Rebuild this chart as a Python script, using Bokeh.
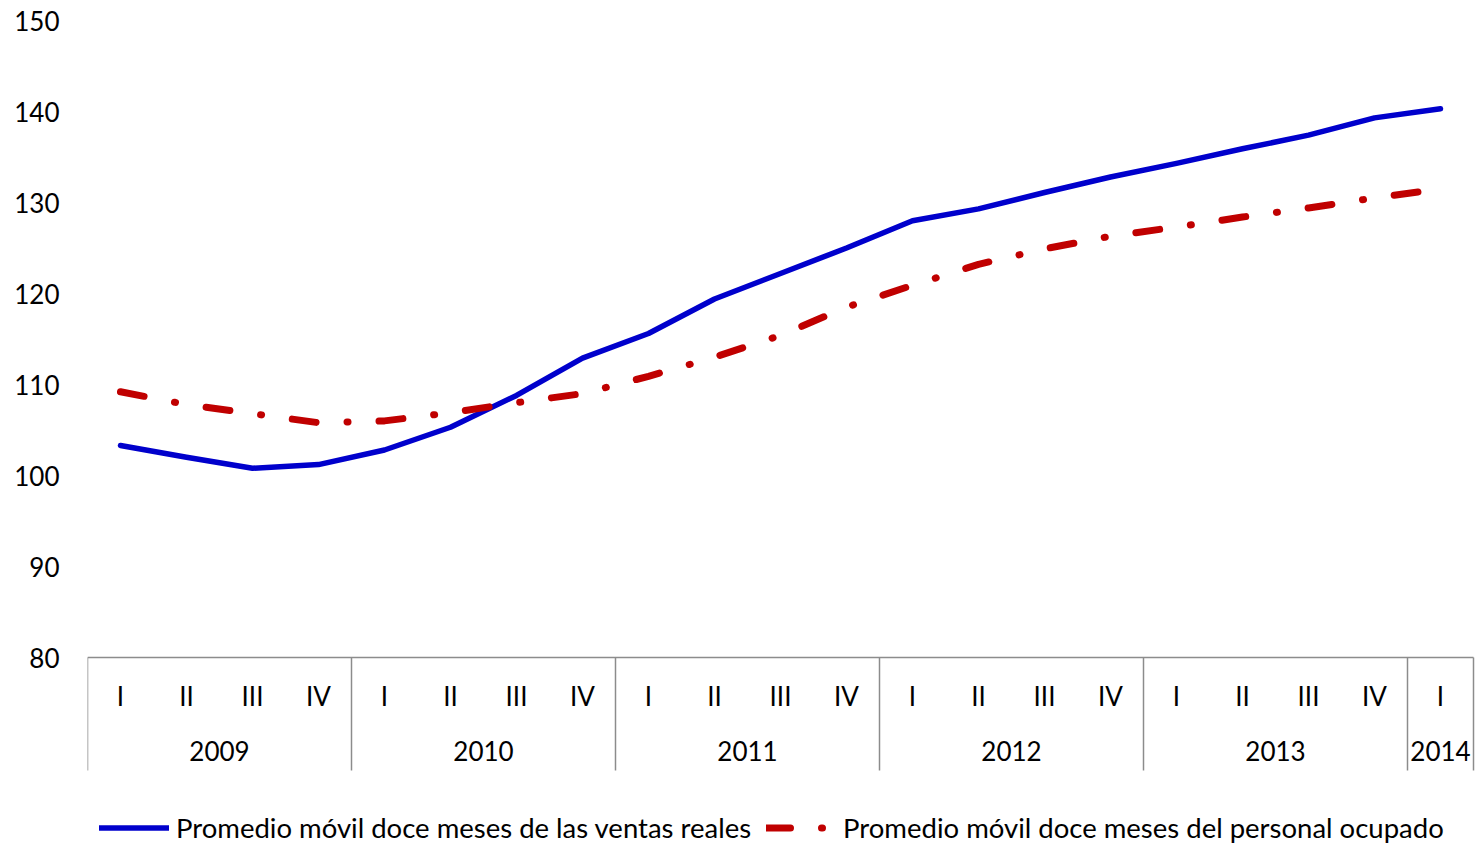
from bokeh.plotting import figure
from bokeh.models import Range1d, FixedTicker, Legend, LegendItem, ColumnDataSource
from bokeh.embed import file_html
from bokeh.resources import INLINE
from bokeh.core.properties import value

# ---- data ----
years = ["2009", "2010", "2011", "2012", "2013", "2014"]
quarters_per_year = [4, 4, 4, 4, 4, 1]
quarter_labels = ["I", "II", "III", "IV"] * 5 + ["I"]
ventas = [103.3, 102.0, 100.8, 101.2, 102.8, 105.3, 108.8, 112.9, 115.6, 119.4,
          122.2, 125.0, 128.0, 129.3, 131.1, 132.8, 134.3, 135.9, 137.4, 139.3, 140.3]
personal = [109.2, 107.8, 106.8, 105.8, 106.0, 106.9, 108.0, 109.0, 110.9, 113.0,
            115.4, 118.5, 120.9, 123.2, 124.9, 126.3, 127.3, 128.4, 129.4, 130.5, 131.5]
y_ticks = [80, 90, 100, 110, 120, 130, 140, 150]
label_ventas = "Promedio móvil doce meses de las ventas reales"
label_personal = "Promedio móvil doce meses del personal ocupado"

FONT = "Lato"
W, H = 1476, 845
TOP, LEFT = 20, 87
px_per_unit = 9.1
frame_h = H - TOP
y_top = 150
y_lo = y_top - frame_h / px_per_unit
n = len(quarter_labels)
x_hi = -0.5 + (W - LEFT) / 66.0

p = figure(width=W, height=H, output_backend="svg", toolbar_location=None,
           x_range=Range1d(-0.5, x_hi), y_range=Range1d(y_lo, y_top),
           min_border_left=LEFT, min_border_right=0, min_border_top=TOP, min_border_bottom=0)
p.outline_line_color = None
p.grid.visible = False
p.xaxis.visible = False
p.yaxis.ticker = FixedTicker(ticks=y_ticks)
p.yaxis.axis_line_color = None
p.yaxis.major_tick_line_color = None
p.yaxis.minor_tick_line_color = None
p.yaxis.major_tick_out = 0
p.yaxis.major_label_standoff = 28
p.yaxis.major_label_text_font = FONT
p.yaxis.major_label_text_font_size = "26px"
p.yaxis.major_label_text_color = "#000000"

xs = list(range(n))
src = ColumnDataSource(dict(x=xs, v=ventas, p=personal))
r_v = p.line("x", "v", source=src, line_color="#0000CC", line_width=5.5, line_cap="round",
             line_join="round")
r_p = p.line("x", "p", source=src, line_color="#C00000", line_width=7, line_cap="round",
             line_join="round", line_dash="24 31 1 31")

# ---- category axis (drawn) ----
axis_color = "#8C8C8C"
row_h = 113 / px_per_unit
q_y = 80 - (695 - 657) / px_per_unit
yr_y = 80 - (750 - 657) / px_per_unit

p.segment(x0=[-0.5], y0=[80], x1=[n - 0.5], y1=[80], line_color=axis_color, line_width=1.5)
bounds = [-0.5]
centers = []
for cnt in quarters_per_year:
    start = bounds[-1]
    bounds.append(start + cnt)
    centers.append(start + cnt / 2)
p.segment(x0=bounds, y0=[80] * len(bounds), x1=bounds, y1=[80 - row_h] * len(bounds),
          line_color=axis_color, line_width=1.5)

p.text(x=xs, y=[q_y] * n, text=quarter_labels, text_font=value(FONT),
       text_font_size="26px", text_align="center", text_baseline="middle", text_color="#000000")
p.text(x=centers, y=[yr_y] * len(centers), text=years, text_font=value(FONT),
       text_font_size="26px", text_align="center", text_baseline="middle", text_color="#000000")

legend = Legend(items=[LegendItem(label=label_ventas, renderers=[r_v]),
                       LegendItem(label=label_personal, renderers=[r_p])],
                orientation="horizontal", location=(12, 1),
                glyph_width=70, glyph_height=27, label_height=27, label_standoff=7,
                spacing=15, padding=0, margin=0, border_line_color=None,
                background_fill_alpha=0, label_text_font=FONT,
                label_text_font_size="27.5px", label_text_color="#000000")
p.add_layout(legend)

open("out.html", "w").write(file_html(p, INLINE))
